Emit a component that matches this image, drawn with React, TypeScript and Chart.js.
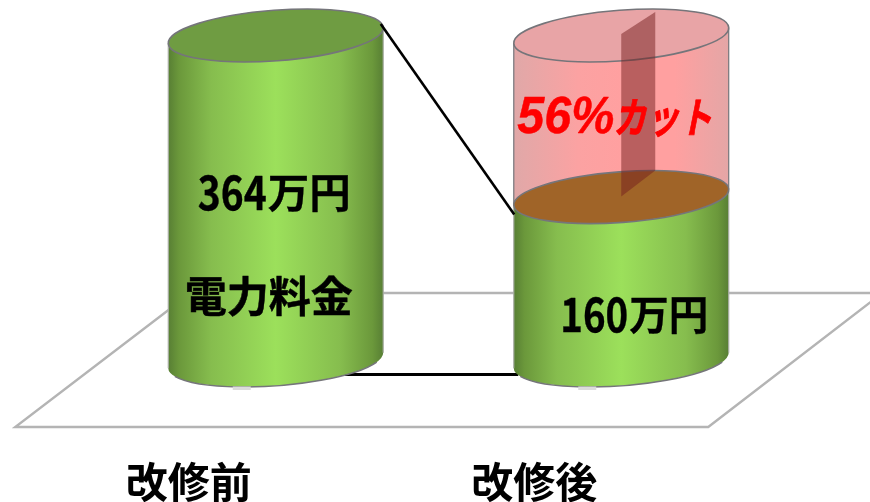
import React, { useEffect, useRef } from "react";
import { Chart, registerables, BarController, BarElement } from "chart.js";

const categories = ["改修前", "改修後"];
// Heights (the drawing is not to scale with its captions).
const remainingHeight = [364, 183];
const removedHeight = [0, 181];
const valueCaptions = ["364万円", "160万円"];
const seriesCaption = "電力料金";
const cutCaption = "56%カット";
const greenCaps = ["#6f9c42", "#a06428"];
const pinkCaps = ["#e8a4a6", "#e8a4a6"];

const GREEN = "#9bde5a";
const PINK = "#ffa0a0";
const OUTLINE = "#75757a";
const TILT = (-4.3 * Math.PI) / 180;
const T0 = 0.0177;
const GOTHIC = '"Noto Sans CJK JP"';

function axes(width: number) {
  return { a: width * 0.5014, b: width * 0.1177 };
}

function tip(cx: number, cy: number, a: number, b: number, t: number) {
  const c = Math.cos(TILT), s = Math.sin(TILT);
  return {
    x: cx + a * Math.cos(t) * c - b * Math.sin(t) * s,
    y: cy + a * Math.cos(t) * s + b * Math.sin(t) * c,
  };
}

class CylinderBody extends BarElement {
  static id = "cylinderBody";
  static defaults = { ...BarElement.defaults };
  draw(ctx: CanvasRenderingContext2D) {
    const { x, y, base, width } = (this as any).getProps(["x", "y", "base", "width"]);
    if (Math.abs(base - y) < 1) return;
    const opts = (this as any).options;
    const { a, b } = axes(width);
    const isGreen = opts.backgroundColor === GREEN;
    const r0 = tip(x, base, a, b, T0);
    const l0 = tip(x, base, a, b, T0 + Math.PI);
    const r1 = tip(x, y, a, b, T0);
    const l1 = tip(x, y, a, b, T0 + Math.PI);
    const g = ctx.createLinearGradient(x - width / 2, 0, x + width / 2, 0);
    if (isGreen) {
      g.addColorStop(0, "#587f34");
      g.addColorStop(0.05, "#6b983b");
      g.addColorStop(0.2, "#86bd4e");
      g.addColorStop(0.5, "#9ce05b");
      g.addColorStop(0.8, "#86bd4e");
      g.addColorStop(0.95, "#6b983b");
      g.addColorStop(1, "#587f34");
    } else {
      g.addColorStop(0, "#e0a8a8");
      g.addColorStop(0.3, "#fba2a2");
      g.addColorStop(0.5, "#ffa0a0");
      g.addColorStop(0.75, "#ffa0a0");
      g.addColorStop(1, "#e4a6a6");
    }
    ctx.save();
    ctx.beginPath();
    ctx.moveTo(r1.x, r1.y);
    ctx.lineTo(r0.x, r0.y);
    ctx.ellipse(x, base, a, b, TILT, T0, T0 + Math.PI, false);
    ctx.lineTo(l1.x, l1.y);
    ctx.ellipse(x, y, a, b, TILT, T0 + Math.PI, T0 + 2 * Math.PI, false);
    ctx.closePath();
    ctx.fillStyle = g;
    ctx.fill();

    ctx.strokeStyle = isGreen ? "#a9aea4" : OUTLINE;
    ctx.lineWidth = 1.2;
    ctx.beginPath();
    ctx.moveTo(r1.x, r1.y);
    ctx.lineTo(r0.x, r0.y);
    ctx.moveTo(l1.x, l1.y);
    ctx.lineTo(l0.x, l0.y);
    ctx.stroke();
    if (isGreen) {
      ctx.strokeStyle = OUTLINE;
      ctx.lineWidth = 1.5;
      ctx.beginPath();
      ctx.ellipse(x, base, a, b, TILT, T0 + 0.35, T0 + Math.PI - 0.35, false);
      ctx.stroke();
      ctx.fillStyle = "#dcdcdc";
      ctx.fillRect(x - 43, base + 26, 18, 3.5);
    }
    ctx.beginPath();
    ctx.ellipse(x, y, a, b, TILT, 0, Math.PI * 2);
    ctx.fillStyle = opts.borderColor;
    ctx.fill();
    ctx.strokeStyle = OUTLINE;
    ctx.lineWidth = 1.6;
    ctx.stroke();
    ctx.restore();
  }
}

class CylinderController extends BarController {
  static id = "cylinder";
  static defaults = { ...BarController.defaults, dataElementType: "cylinderBody" };
}

Chart.register(...registerables, CylinderBody, CylinderController);

function bars(chart: any) {
  const green = chart.getDatasetMeta(0).data;
  const pink = chart.getDatasetMeta(1).data;
  return { green, pink };
}

// Draws text so that it spans exactly `width` pixels from `left`.
function fitText(
  ctx: CanvasRenderingContext2D,
  text: string,
  font: string,
  left: number,
  y: number,
  width: number,
  stroke = 0
) {
  ctx.save();
  ctx.font = font;
  const sx = width / ctx.measureText(text).width;
  ctx.translate(left, y);
  ctx.scale(sx, 1);
  if (stroke > 0) {
    ctx.lineWidth = stroke;
    ctx.strokeStyle = ctx.fillStyle as string;
    ctx.lineJoin = "round";
    ctx.strokeText(text, 0, 0);
  }
  ctx.fillText(text, 0, 0);
  ctx.restore();
}

const scenery = {
  id: "scenery",
  beforeDatasetsDraw(chart: any) {
    const { ctx } = chart;
    const { green } = bars(chart);
    const c0 = green[0].x, c1 = green[1].x, base = green[0].base;
    ctx.save();
    ctx.strokeStyle = "#b4b4b4";
    ctx.lineWidth = 2.4;
    ctx.lineJoin = "miter";
    ctx.beginPath();
    ctx.moveTo(c0 - 260.5, base + 66.5);
    ctx.lineTo(c1 + 87, base + 66.5);
    ctx.lineTo(c1 + 261, base - 67.5);
    ctx.lineTo(c0 - 85, base - 67.5);
    ctx.closePath();
    ctx.stroke();
    ctx.strokeStyle = "#000";
    ctx.lineWidth = 3;
    ctx.beginPath();
    ctx.moveTo(c0, base + 14);
    ctx.lineTo(c1 - 103, base + 14);
    ctx.stroke();
    ctx.restore();
  },
  afterDatasetsDraw(chart: any) {
    const { ctx } = chart;
    const { green, pink } = bars(chart);
    const c0 = green[0].x, c1 = green[1].x;
    const top = green[0].y, level = green[1].y;
    ctx.save();
    // connector from the old level down to the new level
    ctx.strokeStyle = "#000";
    ctx.lineWidth = 2.6;
    ctx.beginPath();
    ctx.moveTo(c0 + 105, top - 11.5);
    ctx.lineTo(c1 - 107, level + 17.5);
    ctx.stroke();
    // translucent panel inside the removed part
    const pTop = pink[1].y;
    ctx.fillStyle = "rgba(115,30,30,0.5)";
    ctx.beginPath();
    ctx.moveTo(c1, pTop - 1.5);
    ctx.lineTo(c1 + 34, pTop - 23.5);
    ctx.lineTo(c1 + 34, level - 26.5);
    ctx.lineTo(c1, level - 0.5);
    ctx.closePath();
    ctx.fill();
    // captions
    ctx.textBaseline = "middle";
    ctx.textAlign = "left";
    ctx.fillStyle = "#000";
    const drawCaption = (text: string, left: number, y: number, digitW: number, restW: number) => {
      const digits = text.replace(/[^0-9]/g, "");
      const rest = text.replace(/[0-9]/g, "");
      fitText(ctx, digits, `bold 47px ${GOTHIC}`, left, y, digitW, 0.4);
      fitText(ctx, rest, `bold 41px ${GOTHIC}`, left + digitW + 1, y, restW, 0.3);
    };
    drawCaption(valueCaptions[0], c0 - 78, top + 157, 69, 83);
    drawCaption(valueCaptions[1], c1 - 61, level + 117, 68, 79);
    ctx.font = `bold 42px ${GOTHIC}`;
    ctx.textAlign = "center";
    ctx.lineWidth = 0.5;
    ctx.strokeStyle = "#000";
    ctx.fillText(seriesCaption, c0 - 7, top + 261);
    ctx.strokeText(seriesCaption, c0 - 7, top + 261);
    ctx.textAlign = "left";
    ctx.fillStyle = "#ff0000";
    ctx.textBaseline = "alphabetic";
    const numeric = cutCaption.slice(0, 3);
    const kana = cutCaption.slice(3);
    fitText(ctx, numeric, `italic bold 51px "Liberation Sans", ${GOTHIC}`, c1 - 104, level - 64.5, 97, 0.5);
    fitText(ctx, kana, `italic bold 42px ${GOTHIC}`, c1 - 8, level - 64.5, 99, 0.8);
    ctx.restore();
  },
};

export default function App() {
  const ref = useRef<HTMLCanvasElement>(null);
  useEffect(() => {
    document.body.style.margin = "0";
    document.body.style.background = "#fff";
    const chart = new Chart(ref.current!, {
      type: "cylinder" as any,
      data: {
        labels: categories,
        datasets: [
          {
            label: "改修後の電力料金",
            data: remainingHeight,
            backgroundColor: GREEN,
            borderColor: greenCaps,
            clip: false,
            stack: "s",
          },
          {
            label: "削減分",
            data: removedHeight,
            backgroundColor: PINK,
            borderColor: pinkCaps,
            clip: false,
            stack: "s",
          },
        ],
      } as any,
      options: {
        responsive: false,
        devicePixelRatio: 1,
        animation: false,
        layout: { padding: { left: 103, right: 76, top: 35.5, bottom: 0 } },
        datasets: { cylinder: { barPercentage: 0.622, categoryPercentage: 1 } },
        plugins: { legend: { display: false }, tooltip: { enabled: false } },
        scales: {
          x: {
            type: "category",
            offset: true,
            stacked: true,
            grid: { display: false, drawTicks: false },
            border: { display: false },
            afterFit: (s: any) => {
              s.height = 141.5;
            },
            ticks: {
              color: "#000",
              font: { family: "Noto Sans CJK JP", weight: "bold", size: 42 },
              padding: 96,
              labelOffset: -87,
              maxRotation: 0,
              autoSkip: false,
            },
          },
          y: { type: "linear", display: false, stacked: true, min: 0, max: 364 },
        },
      } as any,
      plugins: [scenery],
    });
    return () => chart.destroy();
  }, []);
  return (
    <div style={{ position: "absolute", left: 0, top: 0, width: 870, height: 502 }}>
      <canvas ref={ref} width={870} height={502} style={{ display: "block" }} />
    </div>
  );
}
